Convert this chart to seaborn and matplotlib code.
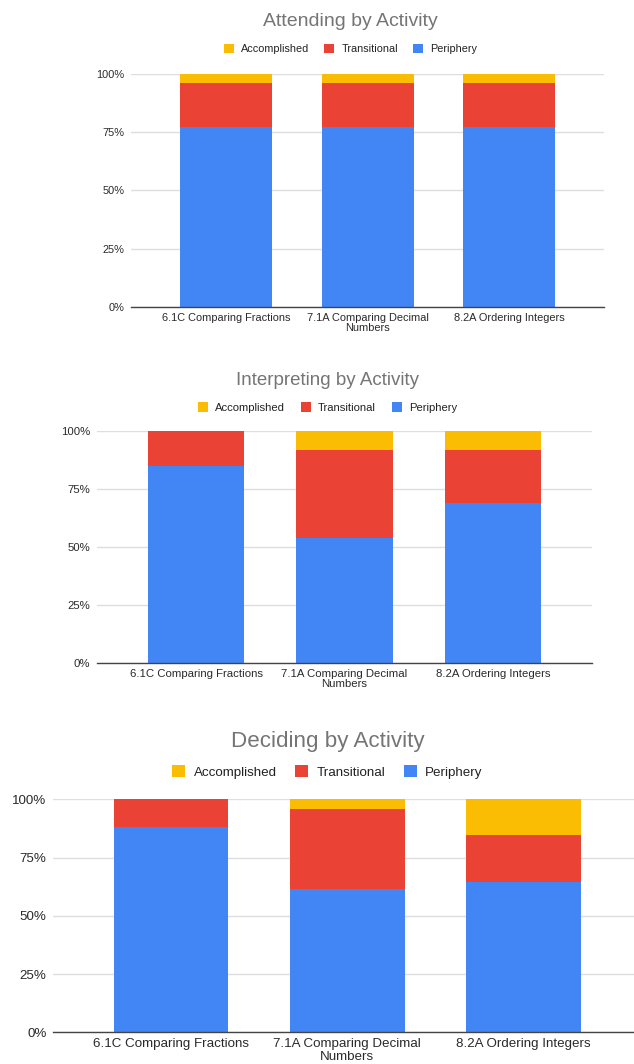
import matplotlib
matplotlib.use("Agg")
import matplotlib.pyplot as plt
import seaborn as sns
import pandas as pd
import numpy as np
from matplotlib.patches import Patch

sns.set_theme(style="white")
plt.rcParams['font.family'] = ['Liberation Sans', 'DejaVu Sans']

# ---------------- data ----------------
activities = ["6.1C Comparing Fractions", "7.1A Comparing Decimal\nNumbers", "8.2A Ordering Integers"]
series = ["Accomplished", "Transitional", "Periphery"]
series_colors = ["#FBBC04", "#EA4335", "#4285F4"]
titles = ["Attending by Activity", "Interpreting by Activity", "Deciding by Activity"]
y_ticks = [0, 25, 50, 75, 100]
y_tick_labels = ["0%", "25%", "50%", "75%", "100%"]

attending_periphery = [77, 77, 77]
attending_transitional = [19, 19, 19]
attending_accomplished = [4, 4, 4]

interpreting_periphery = [85, 54, 69]
interpreting_transitional = [15, 38, 23]
interpreting_accomplished = [0, 8, 8]

deciding_periphery = [88, 61.5, 64.5]
deciding_transitional = [12, 34.5, 20]
deciding_accomplished = [0, 4, 15.5]

panels_data = [
    (attending_periphery, attending_transitional, attending_accomplished),
    (interpreting_periphery, interpreting_transitional, interpreting_accomplished),
    (deciding_periphery, deciding_transitional, deciding_accomplished),
]

# ---------------- layout (pixels) ----------------
W, H = 634, 1064
layouts = [
    dict(box=(131, 73.7, 604.3, 307), title_xy=(350.5, 21.7), legend_xy=(350.5, 49),
         title_fs=14.0, legend_fs=7.8, tick_fs=7.9, sq=0.93),
    dict(box=(96.7, 431, 592.3, 663.3), title_xy=(327.5, 380), legend_xy=(327.5, 407.5),
         title_fs=13.5, legend_fs=8.1, tick_fs=8.2, sq=0.9),
    dict(box=(52.7, 799.3, 642, 1032.3), title_xy=(327.5, 741), legend_xy=(327.5, 772),
         title_fs=16.1, legend_fs=9.6, tick_fs=9.6, sq=0.95),
]

fig = plt.figure(figsize=(W / 100, H / 100), dpi=100)
fig.patch.set_facecolor("white")

for (per, tra, acc), title, lay in zip(panels_data, titles, layouts):
    x0, y0, x1, y1 = lay["box"]
    ax = fig.add_axes([x0 / W, 1 - y1 / H, (x1 - x0) / W, (y1 - y0) / H])
    per = np.array(per, dtype=float)
    tra = np.array(tra, dtype=float)
    acc = np.array(acc, dtype=float)
    df = pd.DataFrame({
        "activity": activities,
        "Periphery": per,
        "Transitional_top": per + tra,
        "Accomplished_top": per + tra + acc,
    })
    for col, color in [("Accomplished_top", series_colors[0]),
                       ("Transitional_top", series_colors[1]),
                       ("Periphery", series_colors[2])]:
        sns.barplot(data=df, x="activity", y=col, color=color, saturation=1,
                    width=0.65, ax=ax, linewidth=0, zorder=3)
    ax.set_xlim(-0.67, 2.67)
    ax.set_ylim(0, 100)
    ax.set_yticks(y_ticks)
    ax.set_yticklabels(y_tick_labels)
    ax.set_xlabel("")
    ax.set_ylabel("")
    ax.set_axisbelow(True)
    ax.yaxis.grid(True, color="#dedede", linewidth=1.0)
    ax.xaxis.grid(False)
    for s in ["left", "right", "top"]:
        ax.spines[s].set_visible(False)
    ax.spines["bottom"].set_color("#444444")
    ax.spines["bottom"].set_linewidth(1.0)
    ax.spines["bottom"].set_zorder(5)
    ax.tick_params(axis="both", length=0, labelsize=lay["tick_fs"], labelcolor="#2a2a2a")
    ax.tick_params(axis="y", pad=4.5)
    ax.tick_params(axis="x", pad=4.0)
    for lbl in ax.get_xticklabels():
        lbl.set_linespacing(1.08)

    tx, ty = lay["title_xy"]
    fig.text(tx / W, 1 - ty / H, title, ha="center", va="center",
             fontsize=lay["title_fs"], color="#757575")

    handles = [Patch(facecolor=c, edgecolor="none") for c in series_colors]
    lx, ly = lay["legend_xy"]
    ax.legend(handles, series, loc="center", bbox_to_anchor=(lx / W, 1 - ly / H),
              bbox_transform=fig.transFigure, ncol=3, frameon=False,
              fontsize=lay["legend_fs"], labelcolor="#222222",
              handlelength=lay["sq"], handleheight=lay["sq"],
              handletextpad=0.65, columnspacing=1.4, borderpad=0, borderaxespad=0)

fig.savefig("out.png", dpi=100, facecolor="white")
